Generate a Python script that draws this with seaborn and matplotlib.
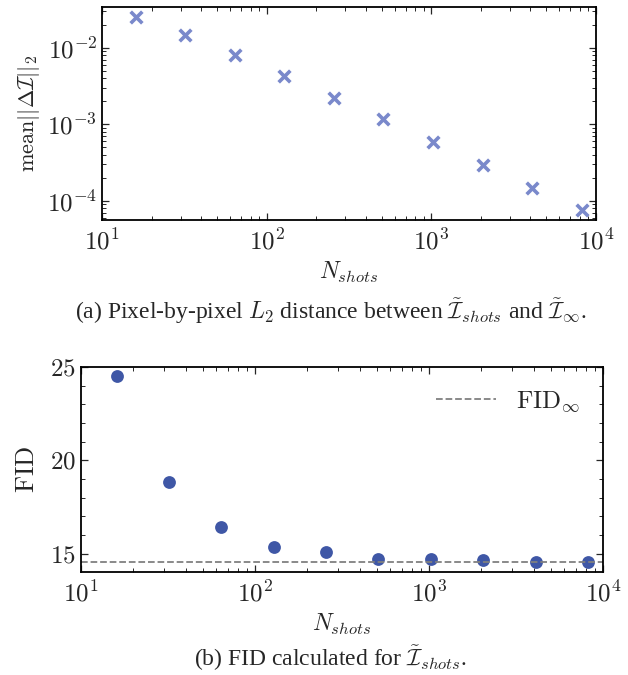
import numpy as np
import pandas as pd
import seaborn as sns
import matplotlib.pyplot as plt
from matplotlib.ticker import LogLocator, MultipleLocator, FuncFormatter, NullFormatter

# data
n_shots = [16, 32, 64, 128, 256, 512, 1024, 2048, 4096, 8192]
l2_dist = [0.025, 0.0147, 0.0081, 0.0043, 0.0022, 0.00116, 0.00059, 0.000295, 0.000148, 0.000076]
fid = [24.52, 18.87, 16.45, 15.36, 15.09, 14.71, 14.70, 14.68, 14.59, 14.54]
fid_inf = 14.56

df = pd.DataFrame({'N': n_shots, 'L2': l2_dist, 'FID': fid})

sns.set_style('ticks')
plt.rcParams['font.family'] = ['Liberation Serif', 'DejaVu Serif']
plt.rcParams['mathtext.fontset'] = 'cm'
plt.rcParams['xtick.direction'] = 'in'
plt.rcParams['ytick.direction'] = 'in'
plt.rcParams['xtick.top'] = True
plt.rcParams['ytick.right'] = True

fig = plt.figure(figsize=(6.28, 6.75), dpi=100)
W, H = 628, 675
ax1 = fig.add_axes([102 / W, 1 - 220 / H, (596 - 102) / W, (220 - 7) / H])
ax2 = fig.add_axes([81 / W, 1 - 572 / H, (603 - 81) / W, (572 - 367) / H])

# (a) L2 distance
sns.scatterplot(data=df, x='N', y='L2', ax=ax1, marker='x', s=70, linewidth=2.6,
                color='#7a89cb', legend=False)
ax1.set_xscale('log')
ax1.set_yscale('log')
ax1.set_xlim(10, 1e4)
ax1.set_ylim(5.6e-5, 0.034)
ax1.set_xlabel(r'$N_{shots}$', fontsize=17, labelpad=4)
ax1.set_ylabel(r'$\mathrm{mean}||\Delta\mathcal{I}||_2$', fontsize=16)

# (b) FID
sns.scatterplot(data=df, x='N', y='FID', ax=ax2, marker='o', s=85, linewidth=0,
                color='#3f57a6', legend=False)
ax2.axhline(fid_inf, color='#808080', ls='--', lw=1.3, label=r'$\mathrm{FID}_\infty$')
ax2.set_xscale('log')
ax2.set_xlim(10, 1e4)
ax2.set_ylim(14.03, 25.0)
ax2.yaxis.set_major_locator(MultipleLocator(5))
ax2.yaxis.set_minor_locator(MultipleLocator(1))
ax2.yaxis.set_major_formatter(FuncFormatter(lambda v, p: r'$%d$' % v))
ax2.set_xlabel(r'$N_{shots}$', fontsize=17, labelpad=4)
ax2.set_ylabel(r'$\mathrm{FID}$', fontsize=19, labelpad=8)
ax2.legend(loc='upper right', frameon=False, fontsize=18, handlelength=2.4)

log_fmt = FuncFormatter(lambda v, p: r'$10^{%d}$' % round(np.log10(v)))
for ax in (ax1, ax2):
    ax.xaxis.set_major_locator(LogLocator(base=10, numticks=10))
    ax.xaxis.set_minor_locator(LogLocator(base=10, subs=np.arange(2, 10), numticks=10))
    ax.xaxis.set_major_formatter(log_fmt)
    ax.xaxis.set_minor_formatter(NullFormatter())
    ax.tick_params(which='major', length=5, width=0.9, labelsize=18)
    ax.tick_params(which='minor', length=3, width=0.7)
    ax.tick_params(axis='x', pad=6)
    for s in ax.spines.values():
        s.set_linewidth(1.3)
        s.set_color('black')

ax1.yaxis.set_major_formatter(log_fmt)
ax1.yaxis.set_minor_locator(LogLocator(base=10, subs=np.arange(2, 10), numticks=10))
ax1.yaxis.set_minor_formatter(NullFormatter())

fig.text(0.527, 1 - 311 / H,
         r'(a) Pixel-by-pixel $L_2$ distance between $\tilde{\mathcal{I}}_{shots}$ and $\tilde{\mathcal{I}}_{\infty}$.',
         ha='center', va='center', fontsize=17)
fig.text(0.527, 1 - 658 / H,
         r'(b) FID calculated for $\tilde{\mathcal{I}}_{shots}$.',
         ha='center', va='center', fontsize=17)

fig.savefig('out.png', dpi=100)
